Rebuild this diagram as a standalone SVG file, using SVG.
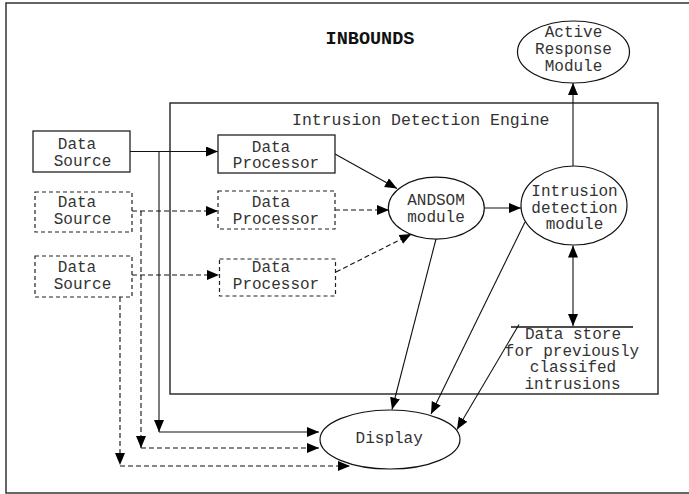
<svg xmlns="http://www.w3.org/2000/svg" width="689" height="494" viewBox="0 0 689 494">
<style>
text{font-family:"Liberation Mono","Courier New",monospace;font-size:16px;fill:#333;text-anchor:middle}
.box{fill:#fff;stroke:#222;stroke-width:1.3}
.dbox{fill:#fff;stroke:#222;stroke-width:1.2;stroke-dasharray:4 3}
.ell{fill:#fff;stroke:#111;stroke-width:1.2}
.c{fill:none;stroke:#111;stroke-width:1.1}
.d{stroke-dasharray:5 3}
</style>
<defs>
<marker id="ah" markerUnits="userSpaceOnUse" markerWidth="13" markerHeight="11" refX="12" refY="5" orient="auto">
<path d="M0,0 L12,5 L0,10 z" fill="#000"/>
</marker>
<marker id="ahs" markerUnits="userSpaceOnUse" markerWidth="13" markerHeight="11" refX="0" refY="5" orient="auto">
<path d="M12,0 L0,5 L12,10 z" fill="#000"/>
</marker>
</defs>
<rect x="0" y="0" width="689" height="494" fill="#fff"/>
<rect x="6" y="3" width="690" height="490" fill="none" stroke="#333" stroke-width="1.5"/>
<text x="370" y="44" style="font-weight:bold;font-size:18.5px;fill:#111">INBOUNDS</text>
<g id="engine">
<rect x="170" y="103" width="488" height="291" fill="none" stroke="#222" stroke-width="1.4"/>
<text x="292" y="125" style="text-anchor:start;font-size:16.5px">Intrusion Detection Engine</text>
</g>
<g id="connectors">
<path class="c" d="M130,151.5 H218" marker-end="url(#ah)"/>
<path class="c" d="M159,151.5 V432" marker-end="url(#ah)"/>
<path class="c" d="M159,432 H319" marker-end="url(#ah)"/>
<path class="c d" d="M132,211 H218" marker-end="url(#ah)"/>
<path class="c d" d="M141,211 V448" marker-end="url(#ah)"/>
<path class="c d" d="M141,448 H319" marker-end="url(#ah)"/>
<path class="c d" d="M132,275 H219" marker-end="url(#ah)"/>
<path class="c d" d="M120,297 V465" marker-end="url(#ah)"/>
<path class="c d" d="M120,466 H350" marker-end="url(#ah)"/>
<path class="c" d="M335,154 L397,188.5" marker-end="url(#ah)"/>
<path class="c d" d="M335,210 H389" marker-end="url(#ah)"/>
<path class="c d" d="M336,272 L411.5,234" marker-end="url(#ah)"/>
<path class="c" d="M484,208 H521" marker-end="url(#ah)"/>
<path class="c" d="M573,166 V83" marker-end="url(#ah)"/>
<path class="c" d="M573,245.5 V326" marker-start="url(#ahs)" marker-end="url(#ah)"/>
<path class="c" d="M436,239 L392,409.5" marker-end="url(#ah)"/>
<path class="c" d="M525,222 L431,414" marker-end="url(#ah)"/>
<path class="c" d="M519,324.5 L457,429.5" marker-end="url(#ah)"/>
</g>
<g id="source1">
<rect class="box" x="33" y="131" width="97" height="41"/>
<text x="77" y="149">Data</text>
<text x="82.5" y="165.7">Source</text>
</g>
<g id="source2">
<rect class="dbox" x="35" y="192" width="97" height="40"/>
<text x="77" y="207.3">Data</text>
<text x="82.5" y="224">Source</text>
</g>
<g id="source3">
<rect class="dbox" x="35" y="256" width="97" height="41"/>
<text x="77" y="272.3">Data</text>
<text x="82.5" y="289">Source</text>
</g>
<g id="processor1">
<rect class="box" x="218" y="135" width="117" height="38"/>
<text x="271" y="151.7">Data</text>
<text x="276" y="168">Processor</text>
</g>
<g id="processor2">
<rect class="dbox" x="218" y="191" width="117" height="38"/>
<text x="271" y="207.3">Data</text>
<text x="276" y="224">Processor</text>
</g>
<g id="processor3">
<rect class="dbox" x="219.5" y="259" width="116" height="37"/>
<text x="271" y="272.3">Data</text>
<text x="276" y="289">Processor</text>
</g>
<g id="andsom">
<ellipse class="ell" cx="436.3" cy="208.2" rx="48" ry="31"/>
<text x="436" y="204.5">ANDSOM</text>
<text x="436" y="221.7">module</text>
</g>
<g id="intrusion">
<ellipse class="ell" cx="574" cy="205.5" rx="53" ry="39.5"/>
<text x="574.5" y="196">Intrusion</text>
<text x="574.5" y="212.7">detection</text>
<text x="574.5" y="229.3">module</text>
</g>
<g id="active">
<ellipse class="ell" cx="573.5" cy="52" rx="56" ry="31"/>
<text x="573.5" y="37">Active</text>
<text x="573.5" y="54">Response</text>
<text x="573.5" y="70.5">Module</text>
</g>
<g id="datastore">
<path d="M511,327 H633" stroke="#111" stroke-width="1.5"/>
<text x="573" y="339">Data store</text>
<text x="572" y="355.7">for previously</text>
<text x="573" y="372.4">classifed</text>
<text x="572.5" y="389">intrusions</text>
</g>
<g id="display">
<ellipse class="ell" cx="390" cy="439.5" rx="70" ry="29.5"/>
<text x="389.2" y="443.3">Display</text>
</g>
</svg>
